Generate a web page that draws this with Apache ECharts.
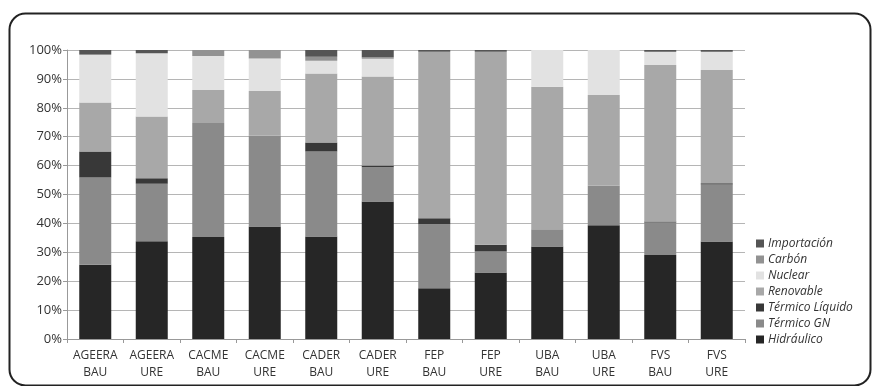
<!DOCTYPE html>
<html><head><meta charset="utf-8">
<script src="https://cdn.jsdelivr.net/npm/echarts@6/dist/echarts.min.js"></script>
<style>html,body{margin:0;padding:0;background:#fff}#c{width:872px;height:386px}</style>
</head><body><div id="c"></div>
<script>
const categories = ['AGEERA\nBAU','AGEERA\nURE','CACME\nBAU','CACME\nURE','CADER\nBAU','CADER\nURE','FEP\nBAU','FEP\nURE','UBA\nBAU','UBA\nURE','FVS\nBAU','FVS\nURE'];
const yTicks = ['0%','10%','20%','30%','40%','50%','60%','70%','80%','90%','100%'];
const hidraulico   = [25.7, 33.8, 35.3, 38.9, 35.5, 47.6, 17.6, 23.0, 32.0, 39.4, 29.1, 33.7];
const termicoGN    = [30.2, 19.9, 39.4, 31.4, 29.4, 11.8, 22.1, 7.3, 6.0, 13.6, 11.2, 19.8];
const termicoLiq   = [9.0, 1.9, 0, 0, 3.1, 0.6, 2.1, 2.3, 0, 0, 0.4, 0.4];
const renovable    = [16.9, 21.4, 11.5, 15.5, 23.9, 30.8, 57.6, 66.8, 49.3, 31.4, 54.1, 39.2];
const nuclear      = [16.5, 21.8, 11.7, 11.3, 4.4, 6.2, 0, 0, 12.7, 15.6, 4.6, 6.3];
const carbon       = [0.3, 0.2, 2.1, 2.9, 1.4, 0.5, 0, 0, 0, 0, 0, 0];
const importacion  = [1.4, 1.0, 0, 0, 2.3, 2.5, 0.6, 0.6, 0, 0, 0.6, 0.6];
const seriesNames = ['Hidráulico','Térmico GN','Térmico Líquido','Renovable','Nuclear','Carbón','Importación'];
const seriesData = [hidraulico, termicoGN, termicoLiq, renovable, nuclear, carbon, importacion];
const colors = ['#262626','#8a8a8a','#383838','#a8a8a8','#e2e2e2','#929292','#555555'];

const chart = echarts.init(document.getElementById('c'), null, {renderer:'canvas'});
const font = '"Open Sans", "Noto Sans", sans-serif';
chart.setOption({
  animation: false,
  backgroundColor: '#fff',
  color: colors,
  graphic: [{
    type: 'rect', left: 7, top: 11, z: 100, silent: true,
    shape: {width: 861, height: 372, r: 16},
    style: {fill: 'none', stroke: '#222', lineWidth: 2}
  }],
  legend: {
    orient: 'vertical', left: 751, top: 232,
    data: seriesNames.slice().reverse(),
    icon: 'rect', itemWidth: 8, itemHeight: 8, itemGap: 3,
    textStyle: {fontFamily: font, fontStyle: 'italic', fontSize: 12, color: '#333', lineHeight: 13, padding: [0,0,0,-1]}
  },
  grid: {left: 67, right: 127, top: 50, bottom: 47},
  xAxis: {
    type: 'category', data: categories,
    axisLine: {lineStyle: {color: '#999'}},
    axisTick: {show: true, alignWithLabel: false, length: 4, lineStyle: {color: '#999'}},
    axisLabel: {fontFamily: font, fontSize: 12, color: '#333', lineHeight: 17, margin: 8, interval: 0}
  },
  yAxis: {
    type: 'value', min: 0, max: 100, interval: 10,
    axisLine: {show: true, lineStyle: {color: '#999'}},
    axisTick: {show: true, length: 4, lineStyle: {color: '#999'}},
    splitLine: {lineStyle: {color: '#b5b5b5'}},
    axisLabel: {fontFamily: font, fontSize: 13, color: '#333', margin: 5,
      formatter: function(v){ return yTicks[Math.round(v/10)]; }}
  },
  series: seriesNames.map((n,i)=>({
    name: n, type: 'bar', stack: 'total', barWidth: 32,
    data: seriesData[i]
  }))
});
</script></body></html>
